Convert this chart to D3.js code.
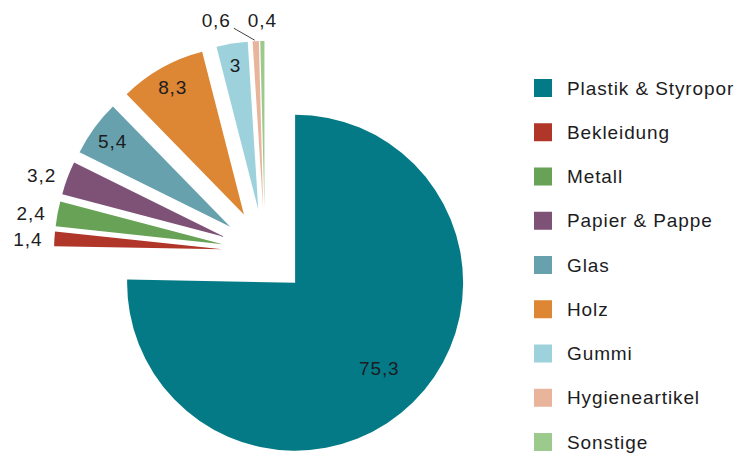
<!DOCTYPE html>
<html>
<head>
<meta charset="utf-8">
<script src="https://cdn.jsdelivr.net/npm/d3@7"></script>
<style>
  body { margin: 0; background: #fff; }
  text { font-family: 'Liberation Sans', Arial, Helvetica, sans-serif; fill: #1c1c22; }
</style>
</head>
<body>
<script>
const categories = ['Plastik & Styropor', 'Bekleidung', 'Metall', 'Papier & Pappe', 'Glas', 'Holz', 'Gummi', 'Hygieneartikel', 'Sonstige'];
const values = [75.3, 1.4, 2.4, 3.2, 5.4, 8.3, 3, 0.6, 0.4];
const colors = ['#037a86', '#b0362a', '#67a256', '#7e5277', '#66a1ad', '#dd8633', '#9dd2dc', '#e9b49c', '#9cc98c'];
// these small slices get their label outside
const outsideLabels = ['Bekleidung', 'Metall', 'Papier & Pappe', 'Hygieneartikel', 'Sonstige'];

const width = 750;
const height = 453;
const cx = 265;
const cy = 252;
const radius = 168;
const explode = 43;
const fontSize = 19;
const spacing = '0.9px';

const formatValue = (v) => String(v).replace('.', ',');

const svg = d3.select('body')
  .append('svg')
  .attr('width', width)
  .attr('height', height);

const data = categories.map((c, i) => ({ name: c, value: values[i], color: colors[i] }));

const pie = d3.pie().sort(null).value((d) => d.value);
const arc = d3.arc().innerRadius(0).outerRadius(radius);
const slices = pie(data);

// apex of each exploded slice and unit vector of its middle
slices.forEach((s) => {
  const mid = (s.startAngle + s.endAngle) / 2;
  s.dir = [Math.sin(mid), -Math.cos(mid)];
  s.apex = [cx + explode * s.dir[0], cy + explode * s.dir[1]];
  s.outer = [s.apex[0] + radius * s.dir[0], s.apex[1] + radius * s.dir[1]];
});

svg.selectAll('path.slice')
  .data(slices)
  .enter()
  .append('path')
  .attr('class', 'slice')
  .attr('transform', (s) => 'translate(' + s.apex[0] + ',' + s.apex[1] + ')')
  .attr('d', arc)
  .attr('fill', (s) => s.data.color);

const labels = svg.append('g');

// inside labels
slices.filter((s) => !outsideLabels.includes(s.data.name)).forEach((s) => {
  const r = (s.endAngle - s.startAngle > Math.PI ? 0.715 : 0.865) * radius;
  labels.append('text')
    .attr('x', s.apex[0] + r * s.dir[0])
    .attr('y', s.apex[1] + r * s.dir[1])
    .attr('text-anchor', 'middle')
    .attr('dominant-baseline', 'central')
    .style('font-size', fontSize + 'px')
    .style('letter-spacing', spacing)
    .text(formatValue(s.data.value));
});

// outside labels, sides first
const topLabels = [];
slices.filter((s) => outsideLabels.includes(s.data.name)).forEach((s) => {
  const t = labels.append('text')
    .attr('dominant-baseline', 'central')
    .style('font-size', fontSize + 'px')
    .style('letter-spacing', spacing)
    .text(formatValue(s.data.value));
  if (Math.abs(s.dir[0]) > 0.5) {
    t.attr('x', s.apex[0] + (radius + 12) * s.dir[0])
     .attr('y', s.apex[1] + (radius + 12) * s.dir[1] + 2)
     .attr('text-anchor', s.dir[0] < 0 ? 'end' : 'start');
  } else {
    t.attr('x', s.outer[0])
     .attr('y', s.outer[1] - 21)
     .attr('text-anchor', 'middle');
    topLabels.push({ s: s, t: t });
  }
});

// push overlapping top labels to the left, with a leader line
topLabels.sort((a, b) => b.s.outer[0] - a.s.outer[0]);
let prevLeft = Infinity;
topLabels.forEach((l) => {
  const w = l.t.node().getComputedTextLength();
  let x = +l.t.attr('x');
  const y = +l.t.attr('y');
  if (x + w / 2 > prevLeft - 17) {
    x = prevLeft - 17 - w / 2;
    l.t.attr('x', x);
    labels.append('line')
      .attr('x1', x + w / 2 + 3)
      .attr('y1', y + 8)
      .attr('x2', l.s.outer[0] - 1)
      .attr('y2', l.s.outer[1] - 1)
      .attr('stroke', '#444')
      .attr('stroke-width', 1);
  }
  prevLeft = x - w / 2;
});

// legend
const legend = svg.append('g')
  .attr('transform', 'translate(534, 88)');

const rows = legend.selectAll('g')
  .data(data)
  .enter()
  .append('g')
  .attr('transform', (d, i) => 'translate(0,' + (i * 44.25) + ')');

rows.append('rect')
  .attr('x', 0)
  .attr('y', -9)
  .attr('width', 18)
  .attr('height', 18)
  .attr('fill', (d) => d.color);

rows.append('text')
  .attr('x', 33)
  .attr('y', 0)
  .attr('dominant-baseline', 'central')
  .style('font-size', fontSize + 'px')
  .style('letter-spacing', spacing)
  .text((d) => d.name);
</script>
</body>
</html>
